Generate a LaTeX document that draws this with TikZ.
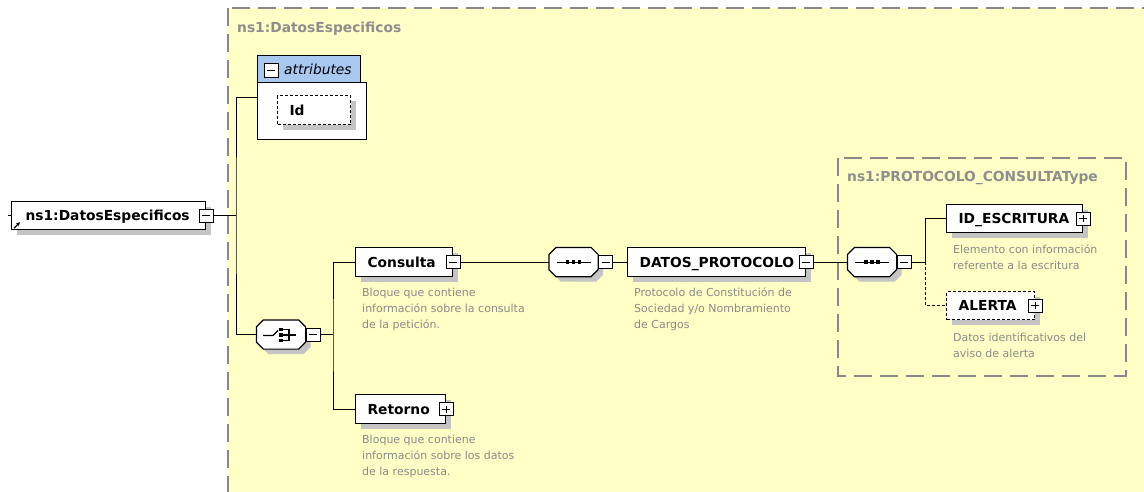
\documentclass[tikz,border=0pt]{standalone}
\usepackage{fontspec}
\setmainfont{DejaVu Sans}
\usetikzlibrary{shadows,calc,arrows.meta}

\definecolor{typefill}{HTML}{FFFFC6}
\definecolor{typeline}{HTML}{888888}
\definecolor{typetitle}{HTML}{8E8E8E}
\definecolor{doctext}{HTML}{8A8A8A}
\definecolor{attrblue}{HTML}{A8C8F0}
\definecolor{shadowgray}{HTML}{C4C4C4}

\newcommand{\labelfont}{\fontsize{13.8}{16}\selectfont\bfseries}
\newcommand{\docfont}{\fontsize{11}{16}\selectfont}

% octagon used for sequence / choice compositors
\makeatletter
\pgfdeclareshape{compositorbox}{
    \inheritsavedanchors[from=rectangle]
    \inheritanchorborder[from=rectangle]
    \inheritanchor[from=rectangle]{center}
    \inheritanchor[from=rectangle]{north}
    \inheritanchor[from=rectangle]{south}
    \inheritanchor[from=rectangle]{west}
    \inheritanchor[from=rectangle]{east}
    \backgroundpath{
        \southwest \edef\cxa{\the\pgf@x}\edef\cya{\the\pgf@y}
        \northeast \edef\cxb{\the\pgf@x}\edef\cyb{\the\pgf@y}
        \pgfpathmoveto{\pgfpoint{\cxa}{\cya+7pt}}
        \pgfpathlineto{\pgfpoint{\cxa}{\cyb-7pt}}
        \pgfpathlineto{\pgfpoint{\cxa+7pt}{\cyb}}
        \pgfpathlineto{\pgfpoint{\cxb-7pt}{\cyb}}
        \pgfpathlineto{\pgfpoint{\cxb}{\cyb-7pt}}
        \pgfpathlineto{\pgfpoint{\cxb}{\cya+7pt}}
        \pgfpathlineto{\pgfpoint{\cxb-7pt}{\cya}}
        \pgfpathlineto{\pgfpoint{\cxa+7pt}{\cya}}
        \pgfpathclose
    }
}
\makeatother

\tikzset{
    elem/.style={draw=black, line width=1.2pt, fill=white, anchor=north west,
        font=\labelfont, minimum height=29pt, inner xsep=12pt, inner ysep=0pt,
        text height=11pt, text depth=1pt, align=left,
        drop shadow={shadow xshift=5pt, shadow yshift=-5pt, fill=shadowgray, opacity=1}},
    optelem/.style={elem, dash pattern=on 3pt off 2pt},
    pmbox/.style={draw=black, line width=0.9pt, fill=white, minimum width=14pt,
        minimum height=13pt, inner sep=0pt},
    minusbox/.style={pmbox, path picture={
        \draw[line width=0.9pt] ([xshift=3pt]path picture bounding box.west)
            -- ([xshift=-3pt]path picture bounding box.east);}},
    plusbox/.style={pmbox, path picture={
        \draw[line width=0.9pt] ([xshift=3pt]path picture bounding box.west)
            -- ([xshift=-3pt]path picture bounding box.east)
            ([yshift=-3pt]path picture bounding box.north)
            -- ([yshift=3pt]path picture bounding box.south);}},
    compositor/.style={shape=compositorbox, draw=black, line width=1.2pt, fill=white,
        minimum width=48pt, minimum height=28pt, inner sep=0pt,
        drop shadow={shadow xshift=5pt, shadow yshift=-5pt, fill=shadowgray, opacity=1}},
    seqicon/.style={path picture={
        \begin{scope}[shift={(path picture bounding box.center)}]
            \draw[line width=1.2pt] (-17,0) -- (17,0);
            \foreach \sx in {-6,0,6}
                \fill[black] (\sx-1.8,-1.8) rectangle (\sx+1.8,1.8);
        \end{scope}}},
    choiceicon/.style={path picture={
        \begin{scope}[shift={(path picture bounding box.center)}]
            \draw[line width=1.1pt] (-18,1) -- (-8,1) -- (-3,-4);
            \foreach \sy in {-5,0.5,6}
                \fill[black] (-1.8,\sy-1.8) rectangle (1.8,\sy+1.8);
            \draw[line width=1.1pt] (2,-5) -| (8,6) -- (2,6) (2,0.5) -- (15,0.5);
        \end{scope}}},
    typebox/.style={fill=typefill, draw=typeline, line width=1.3pt, dash pattern=on 18pt off 8pt},
    typetitle/.style={font=\labelfont, text=typetitle, anchor=base west, inner sep=0pt},
    doc/.style={font=\docfont, text=doctext, align=left, anchor=north west, inner sep=0pt},
    conn/.style={draw=black, line width=1pt},
}

\begin{document}
\begin{tikzpicture}[x=1pt,y=-1pt]
    \fill[white] (0,0) rectangle (1144,492);
    \useasboundingbox (0,0) rectangle (1144,492);

    % complex types
    \filldraw[typebox] (228,8) rectangle (1170,520);
    \node[typetitle] (datostitle) at (237,33) {ns1:DatosEspecificos};
    \filldraw[typebox] (838,158) rectangle (1126,376);
    \node[typetitle] (prottitle) at (847,182) {ns1:PROTOCOLO\_CONSULTAType};

    % root element
    \node[elem, inner xsep=14pt, text width=166pt, minimum height=28pt] (root) at (11,201) {ns1:DatosEspecificos};
    \node[minusbox] (root-pm) at (root.east) {};
    \draw[-{Stealth[length=4pt,width=4pt]}, line width=1.2pt] ($(root.south west)+(3,-2)$) -- ++(6,-6);

    % attributes
    \node[draw=black, line width=1.2pt, fill=white, anchor=north west, minimum width=109pt,
        minimum height=57pt] (attrbody) at (257,82) {};
    \node[draw=black, line width=1.2pt, fill=attrblue, anchor=north west, font=\fontsize{13.8}{16}\selectfont\itshape,
        text width=85pt, inner xsep=9pt, inner ysep=0pt, align=right, minimum height=27pt,
        text height=11pt, text depth=1pt] (attrhead) at (257,55) {attributes};
    \node[minusbox, minimum height=14pt] (attr-pm) at (271,70) {};
    \node[optelem, text width=49pt] (id) at (277,95) {Id};

    % choice
    \node[compositor, choiceicon] (choice) at (281,334.5) {};
    \node[minusbox, anchor=west] (choice-pm) at (choice.east) {};

    \node[elem, text width=73pt] (consulta) at (355,247) {Consulta};
    \node[minusbox] (consulta-pm) at (consulta.east) {};
    \node[doc] (consulta-doc) at (362,288) {Bloque que contiene\\información sobre la consulta\\de la petición.};

    \node[elem, text width=66pt] (retorno) at (355,394) {Retorno};
    \node[plusbox] (retorno-pm) at (retorno.east) {};
    \node[doc] (retorno-doc) at (362,435) {Bloque que contiene\\información sobre los datos\\de la respuesta.};

    % sequence of Consulta
    \node[compositor, seqicon] (seq1) at (consulta.east -| 573.5,0) {};
    \node[minusbox, anchor=west] (seq1-pm) at (seq1.east) {};

    \node[elem, text width=154pt] (datos) at (627,247) {DATOS\_PROTOCOLO};
    \node[minusbox] (datos-pm) at (datos.east) {};
    \node[doc] (datos-doc) at (634,288) {Protocolo de Constitución de\\Sociedad y/o Nombramiento\\de Cargos};

    % sequence of PROTOCOLO_CONSULTAType
    \node[compositor, seqicon] (seq2) at (datos.east -| 872,0) {};
    \node[minusbox, anchor=west] (seq2-pm) at (seq2.east) {};

    \node[elem, text width=112pt, minimum height=28pt] (idesc) at (946,204) {ID\_ESCRITURA};
    \node[plusbox] (idesc-pm) at (idesc.east) {};
    \node[doc] (idesc-doc) at (953,245) {Elemento con información\\referente a la escritura};

    \node[optelem, text width=64pt, minimum height=28pt] (alerta) at (946,291) {ALERTA};
    \node[plusbox] (alerta-pm) at (alerta.east) {};
    \node[doc] (alerta-doc) at (953,333) {Datos identificativos del\\aviso de alerta};

    % connectors
    \coordinate (rootsplit) at (root.east -| 236,0);
    \coordinate (attrin) at (257,98);
    \coordinate (choicesplit) at (choice.east -| 333,0);
    \coordinate (seq2split) at (seq2.east -| 925,0);
    \draw[conn] (root.west) -- ++(-3,0);
    \draw[conn] (root-pm.east) -- (rootsplit);
    \draw[conn] (attrin) -| (rootsplit) |- (choice.west);
    \draw[conn] (choice-pm.east) -- (choicesplit);
    \draw[conn] (consulta.west) -| (choicesplit) |- (retorno.west);
    \draw[conn] (consulta-pm.east) -- (seq1.west);
    \draw[conn] (seq1-pm.east) -- (datos.west);
    \draw[conn] (datos-pm.east) -- (seq2.west);
    \draw[conn] (seq2-pm.east) -- (seq2split) |- (idesc.west);
    \draw[conn, dash pattern=on 3pt off 2pt] (seq2split) |- (alerta.west);
\end{tikzpicture}
\end{document}
